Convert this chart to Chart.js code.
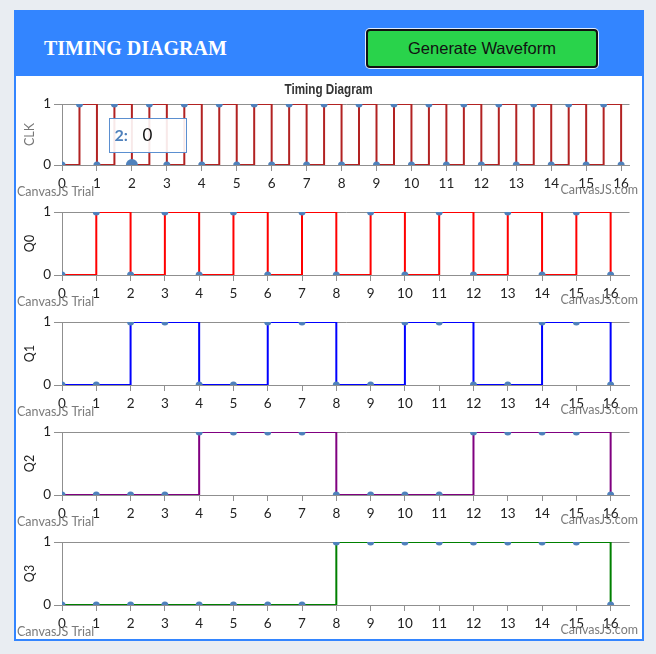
<!DOCTYPE html>
<html><head><meta charset="utf-8">
<script src="https://cdn.jsdelivr.net/npm/chart.js@4.4.1/dist/chart.umd.min.js"></script>
<style>
html,body{margin:0;padding:0;background:#e9edf2;width:656px;height:654px;overflow:hidden;}
#box{position:absolute;left:14px;top:10px;width:626px;height:627px;border:2px solid #3385ff;background:#fff;}
#header{position:absolute;left:0;top:0;width:626px;height:64px;background:#3385ff;}
#htitle{position:absolute;left:28px;top:25.5px;font:bold 20px 'Liberation Serif','Times New Roman',serif;line-height:20px;color:#fff;white-space:nowrap;}
#btn{position:absolute;left:350px;top:17px;width:232px;height:39px;box-sizing:border-box;border:2px solid #111;border-radius:4px;background:#29d34b;box-shadow:0 0 0 1px rgba(255,255,255,0.85);font:16.5px 'Liberation Sans',Arial,sans-serif;color:#111;text-align:center;line-height:35px;}
#ctitle{position:absolute;left:0;top:68px;width:626px;text-align:center;z-index:2;}
#ctitle span{display:inline-block;transform:scaleX(0.78);font:bold 15px 'Liberation Sans',Arial,sans-serif;line-height:17px;color:#333;}
canvas{position:absolute;left:0;}
</style></head>
<body>
<div id="box">
  <div id="header"><div id="htitle">TIMING DIAGRAM</div><div id="btn">Generate Waveform</div></div>
  <canvas id="c0" width="626" height="120" style="top:64px"></canvas>
  <canvas id="c1" width="626" height="110" style="top:184px"></canvas>
  <canvas id="c2" width="626" height="110" style="top:294px"></canvas>
  <canvas id="c3" width="626" height="110" style="top:404px"></canvas>
  <canvas id="c4" width="626" height="110" style="top:514px"></canvas>
  <div id="ctitle"><span>Timing Diagram</span></div>
</div>
<script>
// ---- data ----
const clkTimes  = [0,0.5,1,1.5,2,2.5,3,3.5,4,4.5,5,5.5,6,6.5,7,7.5,8,8.5,9,9.5,10,10.5,11,11.5,12,12.5,13,13.5,14,14.5,15,15.5,16];
const clkValues = [0,1,0,1,0,1,0,1,0,1,0,1,0,1,0,1,0,1,0,1,0,1,0,1,0,1,0,1,0,1,0,1,0];
const times     = [0,1,2,3,4,5,6,7,8,9,10,11,12,13,14,15,16];
const q0Values  = [0,1,0,1,0,1,0,1,0,1,0,1,0,1,0,1,0];
const q1Values  = [0,0,1,1,0,0,1,1,0,0,1,1,0,0,1,1,0];
const q2Values  = [0,0,0,0,1,1,1,1,0,0,0,0,1,1,1,1,0];
const q3Values  = [0,0,0,0,0,0,0,0,1,1,1,1,1,1,1,1,0];
const signalNames = ['CLK','Q0','Q1','Q2','Q3'];
const yTicks = [0,1];
const tooltipIndex = 4; // CLK point shown with tooltip "2: 0"

const colors = ['#b22222','#ff0000','#0000ff','#800080','#008000'];
const markerColor = '#4f81bc';
const gridColor = '#8f8f8f';
const tickFont = {family:'Lato', size:13.5};

function pts(xs, ys){ return xs.map((x,i)=>({x:x, y:ys[i]})); }

const wmPlugin = {
  id:'wm',
  afterDraw(chart){
    const ctx = chart.ctx, h = chart.height;
    ctx.save();
    ctx.font = '12.5px Lato';
    ctx.fillStyle = '#7a7a7a';
    ctx.textBaseline = 'middle';
    ctx.textAlign = 'left';
    ctx.fillText('CanvasJS Trial', 1, h-4);
    ctx.textAlign = 'right';
    ctx.fillText('CanvasJS.com', 622, h-6);
    ctx.restore();
  }
};

const tipPlugin = {
  id:'tip',
  afterDraw(chart){
    if (chart.canvas.id !== 'c0') return;
    const xs = chart.scales.x, ys = chart.scales.y;
    const px = xs.getPixelForValue(clkTimes[tooltipIndex]);
    const py = ys.getPixelForValue(clkValues[tooltipIndex]);
    const ctx = chart.ctx;
    ctx.save();
    const l = Math.round(px-22.5)+0.5, t = Math.round(py-47)+0.5;
    ctx.fillStyle = 'rgba(255,255,255,0.9)';
    ctx.fillRect(l,t,77,34);
    ctx.strokeStyle = '#5b8fd0';
    ctx.lineWidth = 1;
    ctx.strokeRect(l,t,77,34);
    ctx.textBaseline = 'middle';
    ctx.font = 'bold 16px Lato';
    ctx.fillStyle = '#4f81bc';
    ctx.fillText(String(clkTimes[tooltipIndex])+':', l+5, t+17);
    ctx.font = '17px Lato';
    ctx.fillStyle = '#111';
    ctx.fillText(String(clkValues[tooltipIndex]), l+33, t+17);
    ctx.restore();
  }
};

function makeChart(id, name, xs, ys, color, xmax, padTop, isClk){
  return new Chart(document.getElementById(id), {
    type:'line',
    data:{datasets:[{
      data: pts(xs, ys),
      stepped: true,
      borderColor: color,
      borderWidth: 2,
      pointBackgroundColor: markerColor,
      pointBorderWidth: 0,
      pointRadius: isClk ? (c => c.dataIndex === tooltipIndex ? 6 : 3.5) : 3.5,
      fill:false
    }]},
    options:{
      responsive:false,
      animation:false,
      events:[],
      layout:{padding:{left:6,right:12.5,top:padTop,bottom:6}},
      plugins:{legend:{display:false},tooltip:{enabled:false}},
      scales:{
        x:{
          type:'linear', min:0, max:xmax,
          afterFit(s){ s.height = 25; },
          afterBuildTicks(s){ s.ticks = times.map(v=>({value:v})); },
          ticks:{stepSize:1, includeBounds:false, color:'#222', font:tickFont, padding:5, maxRotation:0, autoSkip:false},
          grid:{display:true, drawOnChartArea:false, drawTicks:true, tickLength:6, color:gridColor},
          border:{display:true, color:gridColor, width:1}
        },
        y:{
          min:0, max:1,
          afterFit(s){ s.width = 40; },
          afterBuildTicks(s){ s.ticks = yTicks.map(v=>({value:v})); },
          ticks:{stepSize:1, color:'#222', font:tickFont, padding:3},
          grid:{color:gridColor, tickLength:8, drawTicks:true},
          border:{display:true, color:gridColor, width:1},
          title:{display:true, text:name, color: isClk ? '#777' : '#222', font:{family:'Lato', size:12.5}, padding:0}
        }
      }
    },
    plugins:[wmPlugin, tipPlugin]
  });
}

makeChart('c0', signalNames[0], clkTimes, clkValues, colors[0], 16.24, 28, true);
makeChart('c1', signalNames[1], times, q0Values, colors[1], 16.55, 16, false);
makeChart('c2', signalNames[2], times, q1Values, colors[2], 16.55, 16, false);
makeChart('c3', signalNames[3], times, q2Values, colors[3], 16.55, 16, false);
makeChart('c4', signalNames[4], times, q3Values, colors[4], 16.55, 16, false);
</script>
</body></html>
